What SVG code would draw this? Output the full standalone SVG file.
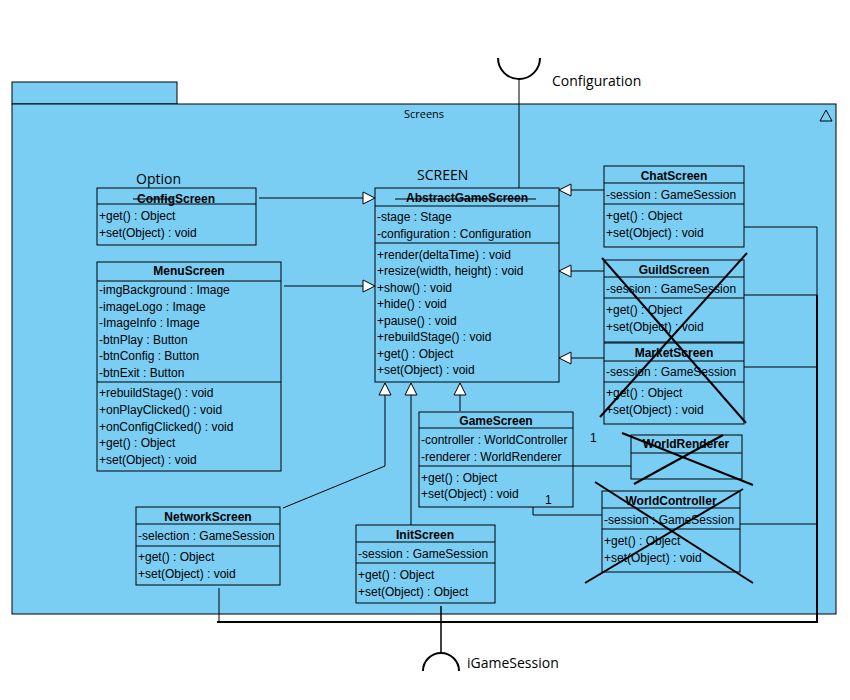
<svg xmlns="http://www.w3.org/2000/svg" width="850" height="700" viewBox="0 0 850 700">
<style>
.box{fill:#7ACEF4;stroke:#000;stroke-width:1}
.sep{stroke:#000;stroke-width:1}
.t{font-family:"Liberation Sans",Arial,sans-serif;font-size:12px;fill:#000}
.b{font-family:"Liberation Sans",Arial,sans-serif;font-size:12px;font-weight:bold;fill:#000;text-anchor:middle}
.lbl{font-family:"Open Sans","Liberation Sans",sans-serif;font-size:14px;fill:#000}
.ln{fill:none;stroke:#000;stroke-width:1}
.x{stroke:#000;stroke-width:2}
</style>
<defs>
<marker id="gen" markerWidth="14" markerHeight="14" refX="13" refY="7" orient="auto" markerUnits="userSpaceOnUse">
<path d="M1,1 L13,7 L1,13 Z" fill="#fff" stroke="#000" stroke-width="1"/>
</marker>
</defs>
<rect width="850" height="700" fill="#fff"/>
<g id="package">
<rect class="box" x="12" y="82" width="165" height="22"/>
<rect class="box" x="12" y="104" width="824" height="510"/>
<text x="424" y="118" font-family="Open Sans, Liberation Sans, sans-serif" font-size="11" text-anchor="middle">Screens</text>
<path d="M820,121 L826,110 L832,121 Z" fill="none" stroke="#000" stroke-width="1"/>
</g>
<g id="connectors">
<line class="ln" x1="259" y1="198" x2="375" y2="198" marker-end="url(#gen)"/>
<line class="ln" x1="284" y1="286" x2="375" y2="286" marker-end="url(#gen)"/>
<line class="ln" x1="604" y1="190" x2="559" y2="190" marker-end="url(#gen)"/>
<line class="ln" x1="604" y1="271" x2="559" y2="271" marker-end="url(#gen)"/>
<line class="ln" x1="604" y1="358" x2="559" y2="358" marker-end="url(#gen)"/>
<line class="ln" x1="460" y1="411" x2="460" y2="383" marker-end="url(#gen)"/>
<polyline class="ln" points="283,508 385,466 385,383" marker-end="url(#gen)"/>
<line class="ln" x1="411" y1="525" x2="411" y2="383" marker-end="url(#gen)"/>
<line class="ln" x1="519" y1="79" x2="519" y2="188"/>
<path d="M498,58 A21,21 0 0 0 540,58" fill="none" stroke="#000" stroke-width="2"/>
<line class="ln" x1="573" y1="466" x2="633" y2="466"/>
<polyline class="ln" points="533,507 533,515 603,515"/>
<polyline class="ln" points="744,227 817,227 817,295"/>
<line class="ln" x1="744" y1="295" x2="817" y2="295"/>
<line x1="817" y1="295" x2="817" y2="623" stroke="#000" stroke-width="2"/>
<line class="ln" x1="744" y1="367" x2="817" y2="367"/>
<line class="ln" x1="740" y1="524" x2="817" y2="524"/>
<line x1="217" y1="622" x2="818" y2="622" stroke="#000" stroke-width="2"/>
<line class="ln" x1="219" y1="588" x2="219" y2="622"/>
<line x1="441" y1="606" x2="441" y2="653" stroke="#000" stroke-width="1.5"/>
<path d="M423,671 A18,18 0 0 1 459,671" fill="none" stroke="#000" stroke-width="2"/>
</g>
<g id="labels">
<text class="lbl" x="552" y="86">Configuration</text>
<text class="lbl" x="467" y="668">iGameSession</text>
<text class="lbl" x="417" y="180">SCREEN</text>
<text class="lbl" x="136" y="184">Option</text>
</g>
<g id="AbstractGameScreen">
<rect class="box" x="375" y="188" width="184" height="194"/>
<line class="sep" x1="375" y1="206" x2="559" y2="206"/>
<line class="sep" x1="375" y1="243" x2="559" y2="243"/>
<text class="b" x="467" y="202">AbstractGameScreen</text>
<line x1="395" y1="199" x2="536" y2="199" stroke="#000" stroke-width="1.2"/>
<text class="t" x="377" y="221">-stage : Stage</text>
<text class="t" x="377" y="238">-configuration : Configuration</text>
<text class="t" x="377" y="259">+render(deltaTime) : void</text>
<text class="t" x="377" y="275">+resize(width, height) : void</text>
<text class="t" x="377" y="292">+show() : void</text>
<text class="t" x="377" y="308">+hide() : void</text>
<text class="t" x="377" y="325">+pause() : void</text>
<text class="t" x="377" y="341">+rebuildStage() : void</text>
<text class="t" x="377" y="358">+get() : Object</text>
<text class="t" x="377" y="374">+set(Object) : void</text>
</g>
<g id="ConfigScreen">
<rect class="box" x="97" y="188" width="159" height="57"/>
<line class="sep" x1="97" y1="204" x2="256" y2="204"/>
<text class="b" x="176" y="203">ConfigScreen</text>
<line x1="133" y1="199" x2="174" y2="199" stroke="#000" stroke-width="1.2"/>
<text class="t" x="99" y="220">+get() : Object</text>
<text class="t" x="99" y="237">+set(Object) : void</text>
</g>
<g id="MenuScreen">
<rect class="box" x="97" y="262" width="184" height="209"/>
<line class="sep" x1="97" y1="281" x2="281" y2="281"/>
<line class="sep" x1="97" y1="382" x2="281" y2="382"/>
<text class="b" x="189" y="275">MenuScreen</text>
<text class="t" x="99" y="294">-imgBackground : Image</text>
<text class="t" x="99" y="311">-imageLogo : Image</text>
<text class="t" x="99" y="327">-ImageInfo : Image</text>
<text class="t" x="99" y="344">-btnPlay : Button</text>
<text class="t" x="99" y="360">-btnConfig : Button</text>
<text class="t" x="99" y="377">-btnExit : Button</text>
<text class="t" x="99" y="397">+rebuildStage() : void</text>
<text class="t" x="99" y="414">+onPlayClicked() : void</text>
<text class="t" x="99" y="431">+onConfigClicked() : void</text>
<text class="t" x="99" y="447">+get() : Object</text>
<text class="t" x="99" y="464">+set(Object) : void</text>
</g>
<g id="ChatScreen">
<rect class="box" x="604" y="166" width="140" height="81"/>
<line class="sep" x1="604" y1="183" x2="744" y2="183"/>
<line class="sep" x1="604" y1="204" x2="744" y2="204"/>
<text class="b" x="674" y="180">ChatScreen</text>
<text class="t" x="606" y="199">-session : GameSession</text>
<text class="t" x="606" y="220">+get() : Object</text>
<text class="t" x="606" y="237">+set(Object) : void</text>
</g>
<g id="GuildScreen">
<rect class="box" x="604" y="260" width="140" height="82"/>
<line class="sep" x1="604" y1="277" x2="744" y2="277"/>
<line class="sep" x1="604" y1="298" x2="744" y2="298"/>
<text class="b" x="674" y="274">GuildScreen</text>
<text class="t" x="606" y="293">-session : GameSession</text>
<text class="t" x="606" y="314">+get() : Object</text>
<text class="t" x="606" y="331">+set(Object) : void</text>
</g>
<g id="MarketScreen">
<rect class="box" x="604" y="343" width="140" height="81"/>
<line class="sep" x1="604" y1="361" x2="744" y2="361"/>
<line class="sep" x1="604" y1="382" x2="744" y2="382"/>
<text class="b" x="674" y="357">MarketScreen</text>
<text class="t" x="606" y="376">-session : GameSession</text>
<text class="t" x="606" y="397">+get() : Object</text>
<text class="t" x="606" y="414">+set(Object) : void</text>
<line class="x" x1="602" y1="258" x2="746" y2="423"/>
<line class="x" x1="747" y1="253" x2="600" y2="417"/>
</g>
<g id="GameScreen">
<rect class="box" x="419" y="412" width="154" height="95"/>
<line class="sep" x1="419" y1="428" x2="573" y2="428"/>
<line class="sep" x1="419" y1="466" x2="573" y2="466"/>
<text class="b" x="496" y="425">GameScreen</text>
<text class="t" x="421" y="444">-controller : WorldController</text>
<text class="t" x="421" y="461">-renderer : WorldRenderer</text>
<text class="t" x="421" y="482">+get() : Object</text>
<text class="t" x="421" y="498">+set(Object) : void</text>
</g>
<g id="WorldRenderer">
<rect class="box" x="631" y="435" width="111" height="44"/>
<line class="sep" x1="631" y1="453" x2="742" y2="453"/>
<text class="b" x="686" y="448">WorldRenderer</text>
<line class="x" x1="622" y1="433" x2="753" y2="485"/>
<line class="x" x1="723" y1="435" x2="634" y2="484"/>
</g>
<g id="WorldController">
<rect class="box" x="602" y="491" width="138" height="81"/>
<line class="sep" x1="602" y1="508" x2="740" y2="508"/>
<line class="sep" x1="602" y1="529" x2="740" y2="529"/>
<text class="b" x="671" y="505">WorldController</text>
<text class="t" x="604" y="524">-session : GameSession</text>
<text class="t" x="604" y="545">+get() : Object</text>
<text class="t" x="604" y="562">+set(Object) : void</text>
<line class="x" x1="595" y1="482" x2="753" y2="583"/>
<line class="x" x1="743" y1="489" x2="585" y2="583"/>
</g>
<g id="NetworkScreen">
<rect class="box" x="136" y="507" width="144" height="78"/>
<line class="sep" x1="136" y1="524" x2="280" y2="524"/>
<line class="sep" x1="136" y1="546" x2="280" y2="546"/>
<text class="b" x="208" y="521">NetworkScreen</text>
<text class="t" x="138" y="540">-selection : GameSession</text>
<text class="t" x="138" y="561">+get() : Object</text>
<text class="t" x="138" y="578">+set(Object) : void</text>
</g>
<g id="InitScreen">
<rect class="box" x="356" y="525" width="139" height="78"/>
<line class="sep" x1="356" y1="542" x2="495" y2="542"/>
<line class="sep" x1="356" y1="563" x2="495" y2="563"/>
<text class="b" x="425" y="539">InitScreen</text>
<text class="t" x="358" y="558">-session : GameSession</text>
<text class="t" x="358" y="579">+get() : Object</text>
<text class="t" x="358" y="596">+set(Object) : Object</text>
</g>
<g id="multiplicities">
<text class="t" x="590" y="442">1</text>
<text class="t" x="545" y="504">1</text>
</g>
</svg>
